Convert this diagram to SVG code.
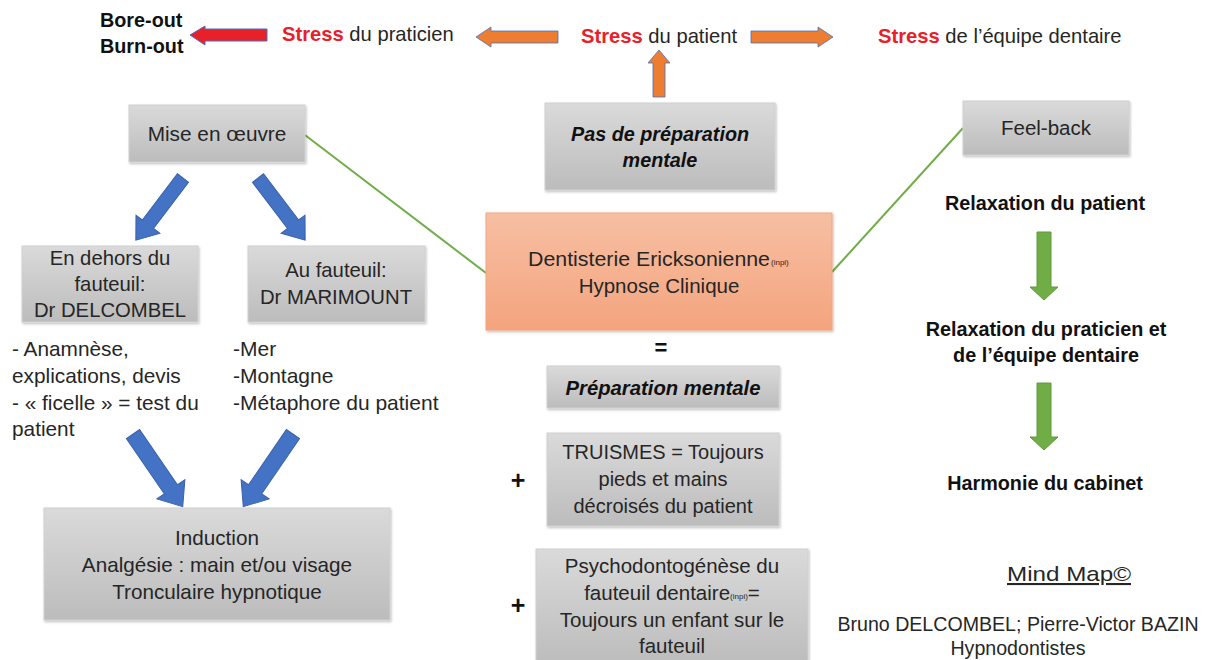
<svg xmlns="http://www.w3.org/2000/svg" width="1209" height="660" viewBox="0 0 1209 660">
<defs>
<linearGradient id="gray" x1="0" y1="0" x2="0" y2="1">
<stop offset="0" stop-color="#dadada"/>
<stop offset="1" stop-color="#bcbcbc"/>
</linearGradient>
<linearGradient id="salmon" x1="0" y1="0" x2="0" y2="1">
<stop offset="0" stop-color="#f7bfa3"/>
<stop offset="1" stop-color="#f4a47e"/>
</linearGradient>
<filter id="sh" x="-5%" y="-5%" width="110%" height="115%">
<feDropShadow dx="1" dy="1.5" stdDeviation="1.2" flood-color="#000" flood-opacity="0.25"/>
</filter>
</defs>
<style>
.box{fill:url(#gray);stroke:#d0d0d0;stroke-width:1;filter:url(#sh)}
.t{font-family:"Liberation Sans",Arial,sans-serif;fill:#262626}
.c{text-anchor:middle}
.b{font-weight:bold;fill:#111}
.bi{font-weight:bold;font-style:italic;fill:#111}
.red{fill:#e8202a;font-weight:bold}
.blue{fill:#4472c4;stroke:#3a62a8;stroke-width:1}
.green{fill:#70ad47;stroke:#5f9a3a;stroke-width:1}
.orange{fill:#ed7d31;stroke:#4472c4;stroke-width:0.8}
.line{stroke:#70ad47;stroke-width:2;fill:none}
</style>
<rect width="1209" height="660" fill="#fff"/>

<g id="connectors">
<line class="line" x1="305" y1="135" x2="486" y2="273"/>
<line class="line" x1="963" y1="128" x2="832" y2="272"/>
<polygon points="267,29 205,29 205,26 190,35 205,45 205,41 267,41" fill="#e8202a" stroke="#4472c4" stroke-width="1"/>
<polygon class="orange" points="558,31 491,31 491,27 476,37 491,47 491,43 558,43"/>
<polygon class="orange" points="751,31 818,31 818,27 833,37 818,47 818,43 751,43"/>
<polygon class="orange" points="653,97 653,63 648,63 659,50 670,63 665,63 665,97"/>
<g transform="translate(183,178) rotate(127.2)"><polygon class="blue" points="0,-7 58,-7 58,-15 78,0 58,15 58,7 0,7"/></g>
<g transform="translate(258,178) rotate(52.8)"><polygon class="blue" points="0,-7 58,-7 58,-15 78,0 58,15 58,7 0,7"/></g>
<g transform="translate(133,434) rotate(55.6)"><polygon class="blue" points="0,-8 67,-8 67,-17 88,0 67,17 67,8 0,8"/></g>
<g transform="translate(293,434) rotate(124.4)"><polygon class="blue" points="0,-8 67,-8 67,-17 88,0 67,17 67,8 0,8"/></g>
<polygon class="green" points="1037,232 1051,232 1051,287 1058,287 1044,300 1030,287 1037,287"/>
<polygon class="green" points="1037,383 1051,383 1051,437 1058,437 1044,450 1030,437 1037,437"/>
</g>

<g id="top-labels">
<text class="t b" x="100" y="27" font-size="19.8">Bore-out</text>
<text class="t b" x="100" y="53" font-size="19.8">Burn-out</text>
<text class="t" x="282" y="41" font-size="20.2"><tspan class="red">Stress</tspan> du praticien</text>
<text class="t" x="581" y="43" font-size="20.2"><tspan class="red">Stress</tspan> du patient</text>
<text class="t" x="878" y="43" font-size="20.2"><tspan class="red">Stress</tspan> de l’équipe dentaire</text>
</g>

<g id="node-mise">
<rect class="box" x="129" y="105" width="176" height="57"/>
<text class="t c" x="217" y="141" font-size="20.8">Mise en œuvre</text>
</g>

<g id="node-pas-prep">
<rect class="box" x="545" y="103" width="230" height="87"/>
<text class="t c bi" x="660" y="141" font-size="19.8">Pas de préparation</text>
<text class="t c bi" x="660" y="167" font-size="19.8">mentale</text>
</g>

<g id="node-feelback">
<rect class="box" x="963" y="101" width="166" height="54"/>
<text class="t c" x="1046" y="135" font-size="20.5">Feel-back</text>
</g>

<g id="node-dentisterie">
<rect x="486" y="213" width="346" height="117" fill="url(#salmon)" stroke="#f3a57f" stroke-width="1" filter="url(#sh)"/>
<text class="t" x="528" y="266" font-size="21" textLength="242" lengthAdjust="spacingAndGlyphs">Dentisterie Ericksonienne</text>
<text class="t" x="771" y="265" font-size="8">(inpi)</text>
<text class="t c" x="659" y="293" font-size="20.5">Hypnose Clinique</text>
</g>

<g id="node-dehors">
<rect class="box" x="22" y="246" width="176" height="76"/>
<text class="t c" x="110" y="265" font-size="20.3">En dehors du</text>
<text class="t c" x="110" y="291" font-size="20.3">fauteuil:</text>
<text class="t c" x="110" y="317" font-size="20.3">Dr DELCOMBEL</text>
</g>

<g id="node-au-fauteuil">
<rect class="box" x="248" y="246" width="177" height="76"/>
<text class="t c" x="336" y="277" font-size="20.3">Au fauteuil:</text>
<text class="t c" x="336" y="304" font-size="20.3">Dr MARIMOUNT</text>
</g>

<g id="list-dehors">
<text class="t" x="12" y="356" font-size="20.8">- Anamnèse,</text>
<text class="t" x="12" y="383" font-size="20.8">explications, devis</text>
<text class="t" x="12" y="410" font-size="20.8">- « ficelle » = test du</text>
<text class="t" x="12" y="436" font-size="20.8">patient</text>
</g>

<g id="list-au-fauteuil">
<text class="t" x="233" y="356" font-size="21">-Mer</text>
<text class="t" x="233" y="383" font-size="21">-Montagne</text>
<text class="t" x="233" y="410" font-size="21">-Métaphore du patient</text>
</g>

<g id="node-induction">
<rect class="box" x="44" y="508" width="346" height="112"/>
<text class="t c" x="217" y="545" font-size="20.7">Induction</text>
<text class="t c" x="217" y="572" font-size="20.7">Analgésie : main et/ou visage</text>
<text class="t c" x="217" y="599" font-size="20.7">Tronculaire hypnotique</text>
</g>

<g id="equals">
<text class="t c b" x="661" y="355" font-size="22">=</text>
</g>

<g id="node-prep">
<rect class="box" x="547" y="366" width="232" height="42"/>
<text class="t c bi" x="663" y="395" font-size="20.3">Préparation mentale</text>
</g>

<g id="node-truismes">
<text class="t c b" x="518" y="489" font-size="25">+</text>
<rect class="box" x="547" y="433" width="232" height="93"/>
<text class="t c" x="663" y="459" font-size="20">TRUISMES = Toujours</text>
<text class="t c" x="663" y="486" font-size="20">pieds et mains</text>
<text class="t c" x="663" y="513" font-size="20">décroisés du patient</text>
</g>

<g id="node-psycho">
<text class="t c b" x="518" y="614" font-size="25">+</text>
<rect class="box" x="536" y="549" width="272" height="116"/>
<text class="t c" x="672" y="573" font-size="20.5">Psychodontogénèse du</text>
<text class="t c" x="672" y="600" font-size="20.5">fauteuil dentaire<tspan font-size="8" dy="-1">(inpi)</tspan><tspan dy="1">=</tspan></text>
<text class="t c" x="672" y="627" font-size="20.5">Toujours un enfant sur le</text>
<text class="t c" x="672" y="653" font-size="20.5">fauteuil</text>
</g>

<g id="right-chain">
<text class="t c b" x="1045" y="210" font-size="19.8">Relaxation du patient</text>
<text class="t c b" x="1046" y="336" font-size="19.8">Relaxation du praticien et</text>
<text class="t c b" x="1046" y="362" font-size="19.8">de l’équipe dentaire</text>
<text class="t c b" x="1045" y="490" font-size="19.8">Harmonie du cabinet</text>
</g>

<g id="credits">
<text class="t" x="1007" y="581" font-size="21" textLength="124" lengthAdjust="spacingAndGlyphs" text-decoration="underline">Mind Map©</text>
<text class="t c" x="1018" y="631" font-size="19.6">Bruno DELCOMBEL; Pierre-Victor BAZIN</text>
<text class="t c" x="1018" y="655" font-size="19.6">Hypnodontistes</text>
</g>
</svg>
